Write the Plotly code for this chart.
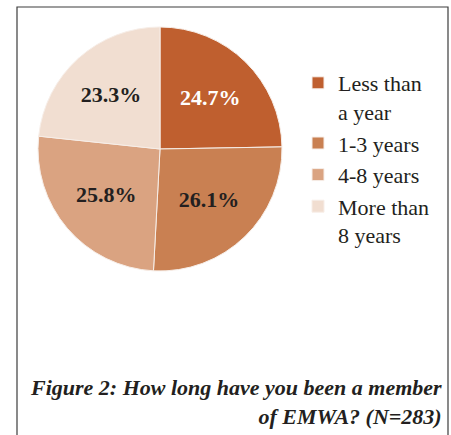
import plotly.graph_objects as go

labels = ["Less than<br>a year", "1-3 years", "4-8 years", "More than<br>8 years"]
shares = [24.7, 26.1, 25.8, 23.3]
colours = ["#BF5F2F", "#C98052", "#DAA381", "#F1DED1"]
text_colours = ["#FFFFFF", "#231F20", "#231F20", "#231F20"]
caption = "Figure 2: How long have you been a member<br>of EMWA? (N=283)"

W, H = 451, 435
serif = "Liberation Serif"

fig = go.Figure()

fig.add_trace(go.Pie(
    labels=labels,
    values=shares,
    sort=False,
    direction="clockwise",
    rotation=0,
    marker=dict(colors=colours, line=dict(color="#F7EEE8", width=1)),
    texttemplate="%{value:.1f}%",
    textposition="inside",
    insidetextorientation="horizontal",
    insidetextfont=dict(family=serif, size=22, color=text_colours, weight="bold"),
    hoverinfo="label+percent",
    domain=dict(x=[38 / W, 282 / W], y=[1 - 271 / H, 1 - 27 / H]),
))

# frame around the figure
fig.add_shape(type="rect", xref="paper", yref="paper",
              x0=17 / W, x1=448 / W, y0=-0.1, y1=1 - 7 / H,
              line=dict(color="#3C3C3C", width=1.2))

fig.add_annotation(
    text=caption, xref="paper", yref="paper",
    x=444 / W, y=1 - 373 / H, xanchor="right", yanchor="top",
    align="right", showarrow=False,
    font=dict(family=serif, size=22, color="#231F20", weight="bold", style="italic"),
)

fig.update_layout(
    width=W, height=H,
    margin=dict(l=0, r=0, t=0, b=0),
    paper_bgcolor="white",
    showlegend=True,
    legend=dict(
        x=298 / W, y=1 - 62 / H, xanchor="left", yanchor="top",
        font=dict(family=serif, size=22, color="#231F20"),
        valign="top", bgcolor="rgba(0,0,0,0)",
    ),
)

# drop the default page margin so the figure sits at the window's corner
fig.write_html("out.html", config={"displayModeBar": False},
               post_script="document.body.style.margin='0';")
